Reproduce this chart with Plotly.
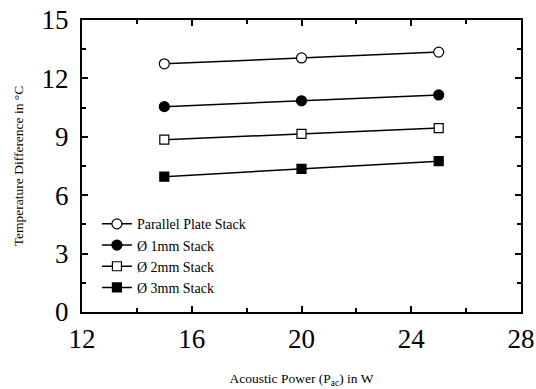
import plotly.graph_objects as go

power = [15, 20, 25]
parallel = [12.75, 13.05, 13.35]
d1mm = [10.55, 10.85, 11.15]
d2mm = [8.85, 9.15, 9.45]
d3mm = [6.95, 7.35, 7.75]

names = ["Parallel Plate Stack", "Ø 1mm Stack", "Ø 2mm Stack", "Ø 3mm Stack"]
series = [parallel, d1mm, d2mm, d3mm]
symbols = ["circle", "circle", "square", "square"]
fills = ["white", "black", "white", "black"]

fig = go.Figure()
for n, s, sym, fc in zip(names, series, symbols, fills):
    fig.add_trace(go.Scatter(
        x=power, y=s, name=n, mode="lines+markers",
        line=dict(color="black", width=1.5),
        marker=dict(symbol=sym, size=10 if sym == "circle" else 9, color=fc,
                    line=dict(color="black", width=1.2)),
    ))

font = "Liberation Serif"
axis_common = dict(
    showline=True, linecolor="black", linewidth=2, mirror="ticks",
    ticks="inside", ticklen=6, tickwidth=2, tickcolor="black",
    showgrid=False, zeroline=False, automargin=False,
    tickfont=dict(family=font, size=27, color="black"),
)
fig.update_xaxes(range=[12, 28], tickvals=[12, 16, 20, 24, 28],
                 ticklabelstandoff=2,
                 minor=dict(tickvals=[14, 18, 22, 26], ticklen=4, tickwidth=2, ticks="inside", tickcolor="black"),
                 title=dict(text="Acoustic Power (P<sub>ac</sub>) in W", font=dict(family=font, size=13.5, color="black"), standoff=20),
                 **axis_common)
fig.update_yaxes(range=[0, 15], tickvals=[0, 3, 6, 9, 12, 15],
                 ticklabelstandoff=6,
                 minor=dict(tickvals=[1.5, 4.5, 7.5, 10.5, 13.5], ticklen=4, tickwidth=2, ticks="inside", tickcolor="black"),
                 title=dict(text="Temperature Difference in °C", font=dict(family=font, size=13.5, color="black"), standoff=15),
                 **axis_common)

fig.update_layout(
    width=536, height=389,
    margin=dict(l=82, r=15, t=20, b=77),
    plot_bgcolor="white", paper_bgcolor="white",
    font=dict(family=font, color="black"),
    showlegend=True,
    legend=dict(x=0.034, y=0.03, xanchor="left", yanchor="bottom",
                bgcolor="rgba(0,0,0,0)", font=dict(family=font, size=14, color="black"),
                tracegroupgap=0, itemwidth=30),
)

fig.write_html("out.html")
